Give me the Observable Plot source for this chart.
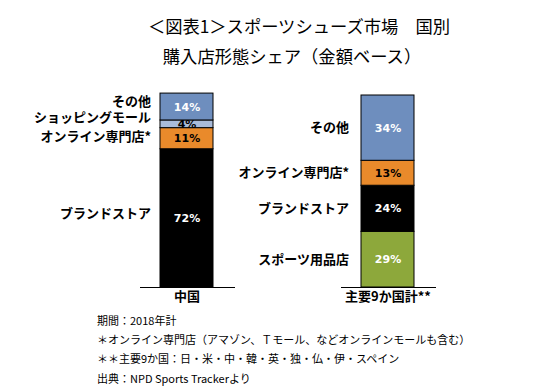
<!DOCTYPE html>
<html>
<head>
<meta charset="utf-8">
<script src="https://cdn.jsdelivr.net/npm/d3@7"></script>
<script src="https://cdn.jsdelivr.net/npm/@observablehq/plot@0.6"></script>
<style>
  body { margin: 0; background: #fff; }
  #wrap { position: relative; width: 558px; height: 392px; overflow: hidden; font-family: "Noto Sans CJK JP", sans-serif; color: #000; }
  #chart { position: absolute; left: 0; top: 0; }
  .t { position: absolute; white-space: nowrap; }
  .title { font-size: 17.3px; left: 0; text-align: center; }
  .note { font-size: 11px; left: 97px; }
</style>
</head>
<body>
<div id="wrap">
  <div id="chart"></div>
  <div class="t title" style="top:13px; width:598px;">＜図表1＞スポーツシューズ市場　国別</div>
  <div class="t title" style="top:43px; width:584px;">購入店形態シェア（金額ベース）</div>
  <div class="t note" style="top:312px;">期間：2018年計</div>
  <div class="t note" style="top:331px;">＊オンライン専門店（アマゾン、Ｔモール、などオンラインモールも含む）</div>
  <div class="t note" style="top:350px;">＊＊主要9か国：日・米・中・韓・英・独・仏・伊・スペイン</div>
  <div class="t note" style="top:370px;">出典：NPD Sports Trackerより</div>
</div>
<script>
const categories = ["中国", "主要9か国計**"];
const chinaChannels = ["ブランドストア", "オンライン専門店*", "ショッピングモール", "その他"];
const chinaShares = [72, 11, 4, 14];
const nineChannels = ["スポーツ用品店", "ブランドストア", "オンライン専門店*", "その他"];
const nineShares = [29, 24, 13, 34];

const channelOrder = ["スポーツ用品店", "ブランドストア", "オンライン専門店*", "ショッピングモール", "その他"];
const channelColors = ["#8DA83B", "#000000", "#E98A2B", "#A9BBD9", "#6E8EBE"];
const darkText = new Set(["オンライン専門店*", "ショッピングモール"]);
// small vertical nudges for the crowded China labels (pixels)
const chinaNudge = {"ブランドストア": -5, "オンライン専門店*": -2, "ショッピングモール": -6, "その他": -5};

const rows = [
  ...chinaChannels.map((c, i) => ({country: categories[0], channel: c, share: chinaShares[i]})),
  ...nineChannels.map((c, i) => ({country: categories[1], channel: c, share: nineShares[i]}))
];

const stackOpts = (extra) => Plot.stackY({x: "country", y: "share", ...extra});
const valFont = {fontWeight: "bold", fontSize: 11, fontFamily: "DejaVu Sans"};
const labFont = {fontWeight: "bold", fontSize: 13, fill: "#000", textAnchor: "end"};

const chinaLabelMarks = chinaChannels.map(ch =>
  Plot.text(rows, stackOpts({
    text: d => (d.country === categories[0] && d.channel === ch) ? d.channel : "",
    dx: -36, dy: chinaNudge[ch], ...labFont
  }))
);

const chart = Plot.plot({
  width: 558,
  height: 392,
  marginLeft: 100,
  marginRight: 83,
  marginTop: 95,
  marginBottom: 105,
  style: {fontFamily: "'Noto Sans CJK JP', sans-serif", background: "transparent"},
  x: {domain: categories, paddingInner: 0.736, paddingOuter: 0.3, axis: null},
  y: {domain: [0, 100], axis: null},
  color: {domain: channelOrder, range: channelColors},
  marks: [
    Plot.barY(rows, stackOpts({fill: "channel", stroke: "#000", strokeWidth: 1})),
    Plot.tickY(categories, {x: d => d, y: 0, insetLeft: -20, insetRight: -22, stroke: "#000", strokeWidth: 1}),
    Plot.text(rows, stackOpts({text: d => darkText.has(d.channel) ? "" : d.share + "%", fill: "#fff", ...valFont})),
    Plot.text(rows, stackOpts({text: d => darkText.has(d.channel) ? d.share + "%" : "", fill: "#000", ...valFont})),
    ...chinaLabelMarks,
    Plot.text(rows, stackOpts({text: d => d.country === categories[1] ? d.channel : "", dx: -39, ...labFont})),
    Plot.axisX({tickSize: 0, tickPadding: 4, fontSize: 13, fontWeight: "bold", label: null, fill: "#000"})
  ]
});
document.getElementById("chart").appendChild(chart);
</script>
</body>
</html>
